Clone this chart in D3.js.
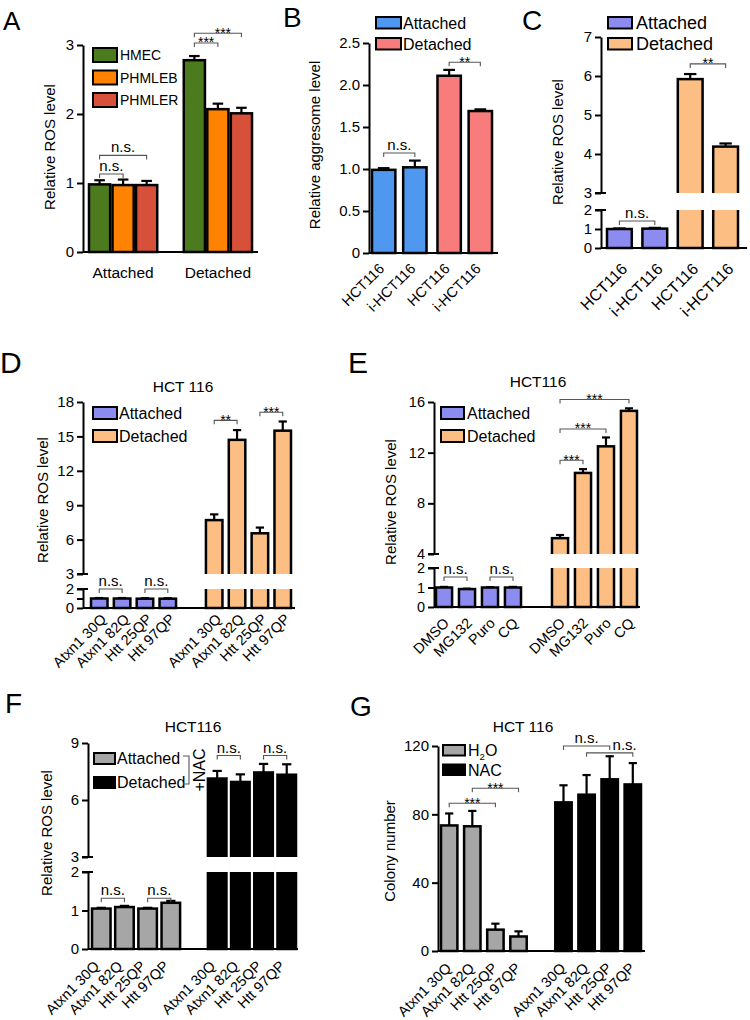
<!DOCTYPE html>
<html>
<head>
<meta charset="utf-8">
<title>ROS panels</title>
<script src="https://cdnjs.cloudflare.com/ajax/libs/d3/7.8.5/d3.min.js"></script>
<style>
  body { margin: 0; background: #fff; }
  svg text { font-family: 'Liberation Sans', Arial, sans-serif; fill: #000; }
</style>
</head>
<body>
<div id="chart"></div>
<script>
// ---- data ----
// A
const aGroups = ['Attached', 'Detached'];
const aCells = ['HMEC', 'PHMLEB', 'PHMLER'];
const aMean = [[0.98, 0.97, 0.97], [2.78, 2.07, 2.01]];
const aSem = [[0.06, 0.08, 0.06], [0.06, 0.08, 0.08]];
const aTicks = [0, 1, 2, 3];
const aSig = [[0, 1, 1.13, 'n.s.'], [0, 2, 1.40, 'n.s.'], [3, 4, 3.03, '***'], [3, 5, 3.17, '***', 5]];

// B
const bGroups = ['Attached', 'Detached'];
const bLines = ['HCT116', 'i-HCT116'];
const bMean = [[0.99, 1.02], [2.11, 1.69]];
const bSem = [[0.02, 0.08], [0.07, 0.02]];
const bTicks = [0, 0.5, 1.0, 1.5, 2.0, 2.5];
const bSig = [[0, 1, 1.19, 'n.s.'], [2, 3, 2.27, '**']];

// C
const cGroups = ['Attached', 'Detached'];
const cLines = ['HCT116', 'i-HCT116'];
const cMean = [[1.0, 1.02], [5.92, 4.19]];
const cSem = [[0.03, 0.04], [0.13, 0.08]];
const cTicksLow = [0, 1, 2];
const cTicksHigh = [3, 4, 5, 6, 7];
const cSig = [[0, 1, 1.42, 'n.s.'], [2, 3, 6.31, '**']];

// D
const dGroups = ['Attached', 'Detached'];
const polyQ = ['Atxn1 30Q', 'Atxn1 82Q', 'Htt 25QP', 'Htt 97QP'];
const dMean = [[1.0, 1.0, 0.98, 0.98], [7.7, 14.7, 6.55, 15.5]];
const dSem = [[0.05, 0.05, 0.05, 0.05], [0.5, 0.85, 0.5, 0.8]];
const dTicksLow = [0, 1, 2];
const dTicksHigh = [3, 6, 9, 12, 15, 18];
const dSig = [[0, 1, 2.0, 'n.s.'], [2, 3, 2.0, 'n.s.'], [4, 5, 16.4, '**'], [6, 7, 17.1, '***']];

// E
const eGroups = ['Attached', 'Detached'];
const drugs = ['DMSO', 'MG132', 'Puro', 'CQ'];
const eMean = [[1.0, 0.92, 1.0, 1.0], [5.25, 10.4, 12.5, 15.3]];
const eSem = [[0.03, 0.02, 0.02, 0.03], [0.25, 0.3, 0.7, 0.2]];
const eTicksLow = [0, 1, 2];
const eTicksHigh = [4, 8, 12, 16];
const eSig = [[0, 1, 1.54, 'n.s.'], [2, 3, 1.54, 'n.s.'], [4, 5, 11.4, '***'], [4, 6, 13.87, '***'], [4, 7, 16.2, '***']];

// F
const fGroups = ['Attached', 'Detached'];
const fMean = [[1.05, 1.09, 1.05, 1.2], [7.13, 6.95, 7.45, 7.33]];
const fSem = [[0.02, 0.03, 0.02, 0.05], [0.4, 0.4, 0.45, 0.55]];
const fTicksLow = [0, 1, 2];
const fTicksHigh = [3, 6, 9];
const fSig = [[0, 1, 1.32, 'n.s.'], [2, 3, 1.32, 'n.s.'], [4, 5, 8.34, 'n.s.'], [6, 7, 8.34, 'n.s.']];

// G
const gGroups = ['H2O', 'NAC'];
const gMean = [[73.5, 73, 12.5, 8.5], [87, 91.5, 100.5, 97.5]];
const gSem = [[7, 9, 3.5, 3], [10, 11.5, 13.5, 12.5]];
const gTicks = [0, 40, 80, 120];
const gSig = [[0, 2, 86.5, '***'], [1, 3, 95.3, '***'], [4, 6, 120, 'n.s.'], [5, 7, 116, 'n.s.', 15]];

// colours
const aColors = ['#4b7a1f', '#ff8200', '#d6503a'];
const bColors = ['#5097f0', '#f87c7c'];
const cColors = ['#8c8cf0', '#fdbe83'];
const fColors = ['#a6a6a6', '#000000'];

const svg = d3.select('#chart').append('svg')
    .attr('width', 750).attr('height', 1020);

function drawPanel(p) {
    const g = svg.append('g');
    const outer = d3.scaleBand().domain(p.groups).range(p.xRange).paddingInner(p.padOuter);
    const inner = d3.scaleBand().domain(p.series).range([0, outer.bandwidth()]).paddingInner(p.padInner);
    const ys = p.segs.map(s => d3.scaleLinear().domain(s.domain).range(s.range));
    const y = v => {
        for (const s of ys) if (v <= s.domain()[1]) return s(v);
        return ys[ys.length - 1](v);
    };
    const bars = [];
    p.groups.forEach((grp, gi) => p.series.forEach((ser, si) => bars.push({
        x: outer(grp) + inner(ser), w: inner.bandwidth(),
        v: p.means[gi][si], e: p.sems[gi][si], fill: p.fill(gi, si), label: ser
    })));
    const y0 = y(0);

    g.selectAll('rect.bar').data(bars).join('rect').attr('class', 'bar')
        .attr('x', d => d.x).attr('width', d => d.w)
        .attr('y', d => y(d.v)).attr('height', d => y0 - y(d.v))
        .attr('fill', d => d.fill).attr('stroke', '#000').attr('stroke-width', 2.5);

    // white gap across broken bars
    if (ys.length > 1) {
        const gTop = ys[1].range()[0], gBot = ys[0].range()[1];
        const lim = ys[1].domain()[0];
        g.selectAll('rect.gap').data(bars.filter(d => d.v > lim)).join('rect').attr('class', 'gap')
            .attr('x', d => d.x - 2).attr('width', d => d.w + 4)
            .attr('y', gTop).attr('height', gBot - gTop).attr('fill', '#fff');
    }

    // error bars (upper only)
    bars.forEach(d => {
        const cx = d.x + d.w / 2, top = y(d.v + d.e), cw = d.w * 0.5;
        g.append('line').attr('x1', cx).attr('x2', cx).attr('y1', y(d.v)).attr('y2', top)
            .attr('stroke', '#000').attr('stroke-width', 2.2);
        g.append('line').attr('x1', cx - cw / 2).attr('x2', cx + cw / 2).attr('y1', top).attr('y2', top)
            .attr('stroke', '#000').attr('stroke-width', 2.2);
    });

    p.segs.forEach((s, i) => {
        const ax = g.append('g').attr('transform', `translate(${p.axisX},0)`)
            .call(d3.axisLeft(ys[i]).tickValues(s.ticks).tickSize(6).tickSizeOuter(0)
                .tickFormat(s.fmt || (d => d)));
        ax.attr('font-size', p.tickFont || 15);
        ax.selectAll('path, line').attr('stroke', '#000').attr('stroke-width', 2);
        ax.selectAll('text').attr('x', -9);
    });
    if (ys.length > 1) {
        [ys[1].range()[0], ys[0].range()[1]].forEach(yy =>
            g.append('line').attr('x1', p.axisX - 6).attr('x2', p.axisX + 5)
                .attr('y1', yy).attr('y2', yy).attr('stroke', '#000').attr('stroke-width', 2));
    }
    g.append('line').attr('x1', p.axisX).attr('x2', p.xEnd).attr('y1', y0).attr('y2', y0)
        .attr('stroke', '#000').attr('stroke-width', 2.2);

    // rotated bar labels
    if (p.xLabel) {
        bars.forEach(d => {
            g.append('text')
                .attr('transform', `translate(${d.x + d.w / 2 + p.xLabel.dx},${y0 + p.xLabel.dy}) rotate(-45)`)
                .attr('text-anchor', 'end').attr('font-size', p.xLabel.size).text(d.label);
        });
    }
    return { g, y, y0, outer, centers: bars.map(d => d.x + d.w / 2) };
}

function drawSig(pan, list) {
    list.forEach(([i, j, v, label, dx = 0]) => {
        const x1 = pan.centers[i], x2 = pan.centers[j], yy = pan.y(v);
        pan.g.append('path').attr('d', `M${x1},${yy + 4}V${yy}H${x2}V${yy + 4}`)
            .attr('fill', 'none').attr('stroke', '#555').attr('stroke-width', 1.1);
        const stars = label !== 'n.s.';
        pan.g.append('text').attr('x', (x1 + x2) / 2 + dx).attr('y', stars ? yy + 4.5 : yy - 3)
            .attr('text-anchor', 'middle').attr('font-size', stars ? 14 : 15).text(label);
    });
}

function drawLegend(x, y, labels, colors, o) {
    labels.forEach((lab, i) => {
        const yy = y + i * o.step;
        svg.append('rect').attr('x', x).attr('y', yy).attr('width', o.w).attr('height', o.h)
            .attr('fill', colors[i]).attr('stroke', '#000').attr('stroke-width', 2);
        const t = svg.append('text').attr('x', x + o.dx).attr('y', yy + o.h / 2)
            .attr('dy', '0.36em').attr('font-size', o.size);
        if (lab === 'H2O') {
            t.append('tspan').text('H');
            t.append('tspan').attr('font-size', o.size * 0.6).attr('dy', 4).text('2');
            t.append('tspan').attr('dy', -4).text('O');
        } else t.text(lab);
    });
}

function yLabel(x, y, txt, size = 15) {
    svg.append('text').attr('transform', `translate(${x},${y}) rotate(-90)`)
        .attr('text-anchor', 'middle').attr('font-size', size).text(txt);
}
function plainText(x, y, txt, size, anchor = 'middle') {
    svg.append('text').attr('x', x).attr('y', y).attr('text-anchor', anchor)
        .attr('font-size', size).text(txt);
}

// ---- A ----
const pa = drawPanel({
    groups: aGroups, series: aCells, means: aMean, sems: aSem,
    fill: (gi, si) => aColors[si],
    xRange: [89, 252], padOuter: 0.28, padInner: 0.1,
    axisX: 83, xEnd: 258,
    segs: [{ domain: [0, 3], range: [252, 45], ticks: aTicks }]
});
drawSig(pa, aSig);
aGroups.forEach(gr => plainText(pa.outer(gr) + pa.outer.bandwidth() / 2, 278, gr, 15.5));
drawLegend(93, 48, aCells, aColors, { w: 24, h: 14, step: 22.5, dx: 27, size: 14 });
yLabel(55, 147, 'Relative ROS level');
plainText(3, 30, 'A', 26, 'start');

// ---- B ----
const pb = drawPanel({
    groups: bGroups, series: bLines, means: bMean, sems: bSem,
    fill: gi => bColors[gi],
    xRange: [372, 492], padOuter: 0.167, padInner: 0.25,
    axisX: 369, xEnd: 498,
    segs: [{ domain: [0, 2.5], range: [253, 43], ticks: bTicks, fmt: d => d === 0 ? '0' : d.toFixed(1) }],
    xLabel: { dx: 1.5, dy: 16.5, size: 14.5 }
});
drawSig(pb, bSig);
drawLegend(376, 17, bGroups, bColors, { w: 25, h: 11.5, step: 21, dx: 27, size: 16 });
yLabel(320, 145, 'Relative aggresome level');
plainText(283, 27, 'B', 28, 'start');

// ---- C ----
const pc = drawPanel({
    groups: cGroups, series: cLines, means: cMean, sems: cSem,
    fill: gi => cColors[gi],
    xRange: [607, 738], padOuter: 0.15, padInner: 0.3,
    axisX: 601, xEnd: 747,
    segs: [{ domain: [0, 2], range: [248, 210], ticks: cTicksLow },
           { domain: [3, 7], range: [193, 37], ticks: cTicksHigh }],
    xLabel: { dx: 9, dy: 22, size: 16 }
});
drawSig(pc, cSig);
drawLegend(608, 17, cGroups, cColors, { w: 24, h: 11.5, step: 21, dx: 28, size: 18 });
yLabel(563, 142, 'Relative ROS level');
plainText(522, 30, 'C', 28, 'start');

// ---- D ----
const pd = drawPanel({
    groups: dGroups, series: polyQ, means: dMean, sems: dSem,
    fill: gi => cColors[gi],
    xRange: [91, 291], padOuter: 0.26, padInner: 0.277,
    axisX: 83, xEnd: 295,
    segs: [{ domain: [0, 2], range: [608, 589], ticks: dTicksLow, fmt: d => d === 1 ? '' : d },
           { domain: [3, 18], range: [574, 402], ticks: dTicksHigh }],
    xLabel: { dx: 8, dy: 12, size: 14.5 }
});
drawSig(pd, dSig);
drawLegend(93, 407, dGroups, cColors, { w: 24, h: 12, step: 23, dx: 26, size: 16 });
plainText(183, 392, 'HCT 116', 15.5);
yLabel(48, 500, 'Relative ROS level');
plainText(0, 373, 'D', 30, 'start');

// ---- E ----
const pe = drawPanel({
    groups: eGroups, series: drugs, means: eMean, sems: eSem,
    fill: gi => cColors[gi],
    xRange: [436, 637], padOuter: 0.267, padInner: 0.30,
    axisX: 434, xEnd: 640, tickFont: 14.5,
    segs: [{ domain: [0, 2], range: [607, 568], ticks: eTicksLow },
           { domain: [4, 16], range: [554, 402], ticks: eTicksHigh }],
    xLabel: { dx: 6, dy: 17, size: 14.5 }
});
drawSig(pe, eSig);
drawLegend(441, 407, eGroups, cColors, { w: 23, h: 12, step: 23, dx: 26, size: 16 });
plainText(538, 387, 'HCT116', 15.5);
yLabel(396, 502, 'Relative ROS level');
plainText(348, 373, 'E', 30, 'start');

// ---- F ----
const pf = drawPanel({
    groups: fGroups, series: polyQ, means: fMean, sems: fSem,
    fill: gi => fColors[gi],
    xRange: [92, 296], padOuter: 0.24, padInner: 0.2,
    axisX: 88, xEnd: 298,
    segs: [{ domain: [0, 2], range: [949, 872], ticks: fTicksLow },
           { domain: [3, 9], range: [857, 743], ticks: fTicksHigh }],
    xLabel: { dx: -1, dy: 18, size: 14.5 }
});
drawSig(pf, fSig);
drawLegend(94, 753, fGroups, fColors, { w: 21, h: 11, step: 24, dx: 23, size: 16 });
svg.append('path').attr('d', 'M183,756H189V784H183').attr('fill', 'none')
    .attr('stroke', '#555').attr('stroke-width', 1.1);
svg.append('text').attr('transform', 'translate(205,770) rotate(-90)')
    .attr('text-anchor', 'middle').attr('font-size', 16).text('+NAC');
plainText(193, 732, 'HCT116', 15.5);
yLabel(52, 833, 'Relative ROS level');
plainText(5, 713, 'F', 28, 'start');

// ---- G ----
const pg = drawPanel({
    groups: gGroups, series: polyQ, means: gMean, sems: gSem,
    fill: gi => fColors[gi],
    xRange: [441, 641], padOuter: 0.25, padInner: 0.29,
    axisX: 438, xEnd: 645,
    segs: [{ domain: [0, 120], range: [951, 746], ticks: gTicks }],
    xLabel: { dx: 3, dy: 18, size: 14.5 }
});
drawSig(pg, gSig);
drawLegend(443, 745, gGroups, fColors, { w: 22, h: 10.5, step: 19.5, dx: 25, size: 16 });
plainText(523, 732, 'HCT 116', 15.5);
yLabel(395, 851, 'Colony number');
plainText(350, 716, 'G', 28, 'start');
</script>
</body>
</html>
